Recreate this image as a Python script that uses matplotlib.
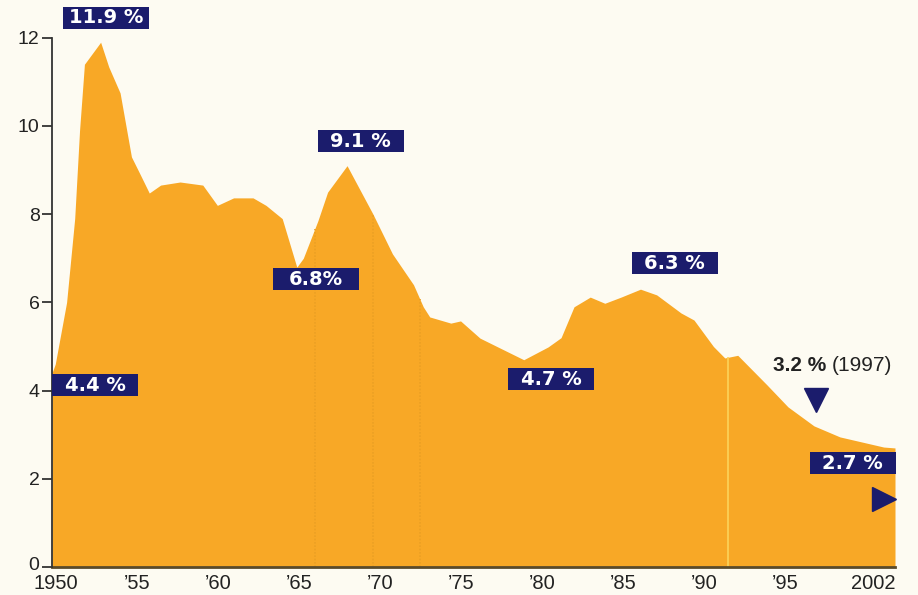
import numpy as np
import matplotlib
matplotlib.use("Agg")
import matplotlib.pyplot as plt
import matplotlib.transforms as mtransforms
from matplotlib.patches import Rectangle

# unemployment rate, %
years = [1950.0, 1950.2, 1950.9, 1951.4, 1951.7, 1952.0, 1953.0, 1953.5, 1954.2,
         1954.9, 1955.4, 1956.0, 1956.7, 1957.9, 1959.3, 1960.2, 1961.2, 1962.4,
         1963.2, 1964.2, 1965.1, 1965.5, 1966.4, 1967.0, 1968.2, 1969.8, 1971.0,
         1972.3, 1972.9, 1973.3, 1974.6, 1975.2, 1975.6, 1976.4, 1977.5, 1979.1,
         1980.6, 1981.4, 1982.2, 1983.2, 1984.1, 1985.1, 1986.3, 1987.3, 1988.8,
         1989.6, 1990.8, 1991.5, 1992.3, 1994.1, 1995.4, 1997.0, 1998.6, 2001.3,
         2002.0]
rate = [4.4, 4.6, 6.0, 7.9, 9.9, 11.4, 11.9, 11.34, 10.75,
        9.3, 8.93, 8.48, 8.66, 8.73, 8.66, 8.2, 8.37, 8.37,
        8.2, 7.9, 6.8, 7.0, 7.85, 8.5, 9.1, 8.0, 7.1,
        6.4, 5.9, 5.67, 5.53, 5.58, 5.45, 5.19, 4.99, 4.7,
        4.99, 5.2, 5.9, 6.12, 5.98, 6.12, 6.3, 6.17, 5.76,
        5.6, 5.0, 4.74, 4.8, 4.13, 3.63, 3.2, 2.95, 2.72,
        2.7]

tick_years = [1950, 1955, 1960, 1965, 1970, 1975, 1980, 1985, 1990, 1995, 2002]
tick_labels = ["1950", "\u201955", "\u201960", "\u201965", "\u201970", "\u201975",
               "\u201980", "\u201985", "\u201990", "\u201995", "2002"]

# callout values and where their boxes sit
callouts = ["11.9 %", "9.1 %", "6.8%", "6.3 %", "4.7 %", "4.4 %", "2.7 %"]
callout_xy = [(1953.35, 12.46), (1969.05, 9.65), (1966.3, 6.52), (1988.4, 6.9),
              (1980.8, 4.26), (1952.65, 4.12), (1999.4, 2.35)]
divider_years = [1966.2, 1969.8, 1972.7]

bg = "#fdfbf2"
orange = "#f8a826"
navy = "#1b1c6c"

plt.rcParams["font.family"] = ["Liberation Sans", "DejaVu Sans"]

fig = plt.figure(figsize=(9.18, 5.95), dpi=100, facecolor=bg)
ax = fig.add_axes([52 / 918, 28 / 595, 843 / 918, 567 / 595])
ax.set_facecolor(bg)

ax.fill_between(years, rate, 0, color=orange, linewidth=0, zorder=1)

# faint dividers inside the area
for yr in divider_years:
    ax.vlines(yr, 0, np.interp(yr, years, rate), color="#eba024",
              linewidth=1.2, linestyles=(0, (1, 1)), zorder=2)
ax.vlines(1991.7, 0, np.interp(1991.7, years, rate), color="#fcd45a",
          linewidth=1.2, zorder=2)

ax.set_xlim(1950, 2002)
ax.set_ylim(0, 567 / 44.1)

ax.set_yticks(range(0, 13, 2))
ax.set_xticks(tick_years)
ax.set_xticklabels(tick_labels)
ax.tick_params(axis="y", length=7, width=1.3, color="#333333", labelsize=14,
               pad=2, labelcolor="#222222")
ax.tick_params(axis="x", length=0, labelsize=14.5, pad=5, labelcolor="#222222")

# nudge tick labels so "0" and "1950" don't collide
xshift = mtransforms.ScaledTranslation(4 / 100, 0, fig.dpi_scale_trans)
for lab in ax.get_xticklabels()[:-1]:
    lab.set_transform(lab.get_transform() + xshift)
ax.get_xticklabels()[-1].set_horizontalalignment("right")
yshift = mtransforms.ScaledTranslation(0, 4 / 100, fig.dpi_scale_trans)
zero_lab = ax.get_yticklabels()[0]
zero_lab.set_transform(zero_lab.get_transform() + yshift)

for s in ["top", "right"]:
    ax.spines[s].set_visible(False)
ax.spines["left"].set_bounds(0, 12)
ax.spines["left"].set_linewidth(1.3)
ax.spines["left"].set_color("#333333")
ax.spines["bottom"].set_linewidth(2)
ax.spines["bottom"].set_color("#5a4a2a")
ax.spines["left"].set_zorder(3)

# navy value boxes
bw, bh = 86 / 16.21, 22 / 44.1
for txt, (cx, cy) in zip(callouts, callout_xy):
    ax.add_patch(Rectangle((cx - bw / 2, cy - bh / 2), bw, bh, facecolor=navy,
                           edgecolor="none", zorder=4, clip_on=False))
    ax.text(cx, cy - 0.01, txt, color="white", fontsize=14, fontweight="bold",
            family="DejaVu Sans", ha="center", va="center", zorder=5, clip_on=False)

# 1997 marker and end-of-series pointer
t97 = ax.text(1994.48, 4.58, "3.2 %", fontsize=15, fontweight="bold",
              color="#222222", ha="left", va="center")
ax.annotate("(1997)", xy=(1, 0.5), xycoords=t97, xytext=(4, 0),
            textcoords="offset points", fontsize=15, color="#222222",
            ha="left", va="center")
ax.plot([1997.15], [3.78], marker="v", markersize=17, color=navy, zorder=5)
ax.plot([2001.35], [1.54], marker=">", markersize=17, color=navy, zorder=5,
        clip_on=False)

fig.savefig("out.png", dpi=100, facecolor=bg)
